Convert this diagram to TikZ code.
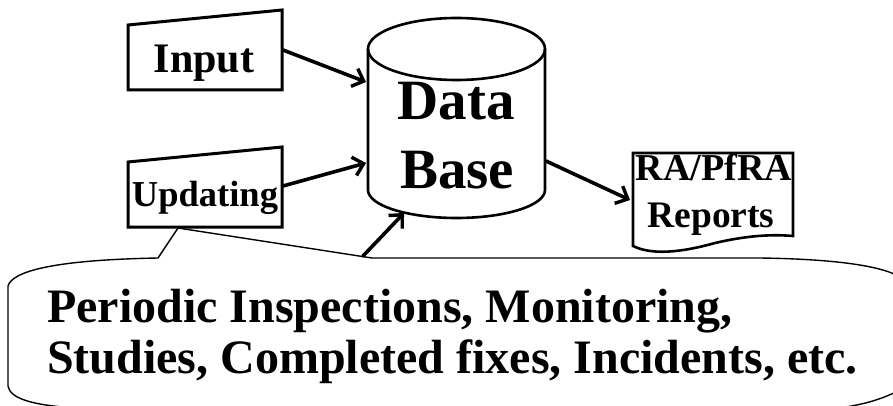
\documentclass[tikz,border=0pt]{standalone}
\usepackage{fontspec}
\setmainfont{Liberation Serif}
\usetikzlibrary{arrows.meta}
\begin{document}
\begin{tikzpicture}[x=1pt,y=-1pt,
  boxline/.style={draw=black, line width=3pt, line join=miter},
  calloutline/.style={draw=black, line width=1.4pt},
  flow/.style={draw=black, line width=3.6pt, line cap=round,
    -{Straight Barb[length=10pt,width=19pt,line width=3.4pt]}},
  lbl/.style={inner sep=0pt, anchor=base, font=\bfseries},
]
\useasboundingbox (0,0) rectangle (893,406);

% speech callout at the bottom (runs off the page edges)
\begin{scope}
  \clip (0,0) rectangle (893,406);
  \draw[calloutline] (158,258) -- (178,228) -- (372,258) -- (760,258)
    .. controls (830,259) and (880,265) .. (900,277) -- (900,390)
    .. controls (880,400) and (865,404) .. (840,408) -- (75,408)
    .. controls (30,405) and (10,398) .. (8,386) -- (8,286)
    .. controls (12,272) and (50,260) .. (158,258) -- cycle;
\end{scope}
\node[lbl, anchor=base west, font=\fontsize{48}{52}\selectfont\bfseries] (src1) at (47,322)
  {Periodic Inspections, Monitoring,};
\node[lbl, anchor=base west, font=\fontsize{48}{52}\selectfont\bfseries] (src2) at (47,373)
  {Studies, Completed fixes, Incidents, etc.};

% manual input boxes
\draw[boxline] (128,25) -- (282,10) -- (282,90) -- (128,90) -- cycle;
\node[lbl, font=\fontsize{42}{46}\selectfont\bfseries] (input) at (204,73) {Input};
\draw[boxline] (128,162) -- (282,147) -- (282,227) -- (128,227) -- cycle;
\node[lbl, font=\fontsize{36.5}{40}\selectfont\bfseries] (updating) at (205,206) {Updating};

% database cylinder
\draw[boxline, line width=2.6pt] (368,49) -- (368,190)
  arc[start angle=180, end angle=360, x radius=88.5, y radius=-28] -- (545,49);
\draw[boxline, line width=2.6pt] (456.5,49) ellipse[x radius=88.5, y radius=31];
\node[lbl, font=\fontsize{57}{62}\selectfont\bfseries] (data) at (456,120) {Data};
\node[lbl, font=\fontsize{57}{62}\selectfont\bfseries] (base) at (457,188) {Base};

% report document
\draw[boxline, line width=2.6pt] (633,153) -- (793,153) -- (793,236)
  .. controls (770,234) and (745,236) .. (715,243)
  .. controls (690,250) and (655,257) .. (633,246) -- cycle;
\node[lbl, font=\fontsize{38}{42}\selectfont\bfseries] (ra) at (714,181) {RA/PfRA};
\node[lbl, font=\fontsize{37.5}{41}\selectfont\bfseries] (reports) at (711,227) {Reports};

% connector end points
\coordinate (inputE) at (283,50);
\coordinate (updE) at (283,186);
\coordinate (srcTop) at (363,256);
\coordinate (dbInA) at (366,82);
\coordinate (dbInB) at (366,163);
\coordinate (dbInC) at (404,213);
\coordinate (dbOut) at (546,161);
\coordinate (repW) at (630,200);

\draw[flow] (inputE) -- (dbInA);
\draw[flow] (updE) -- (dbInB);
\draw[flow] (srcTop) -- (dbInC);
\draw[flow] (dbOut) -- (repW);
\end{tikzpicture}
\end{document}
